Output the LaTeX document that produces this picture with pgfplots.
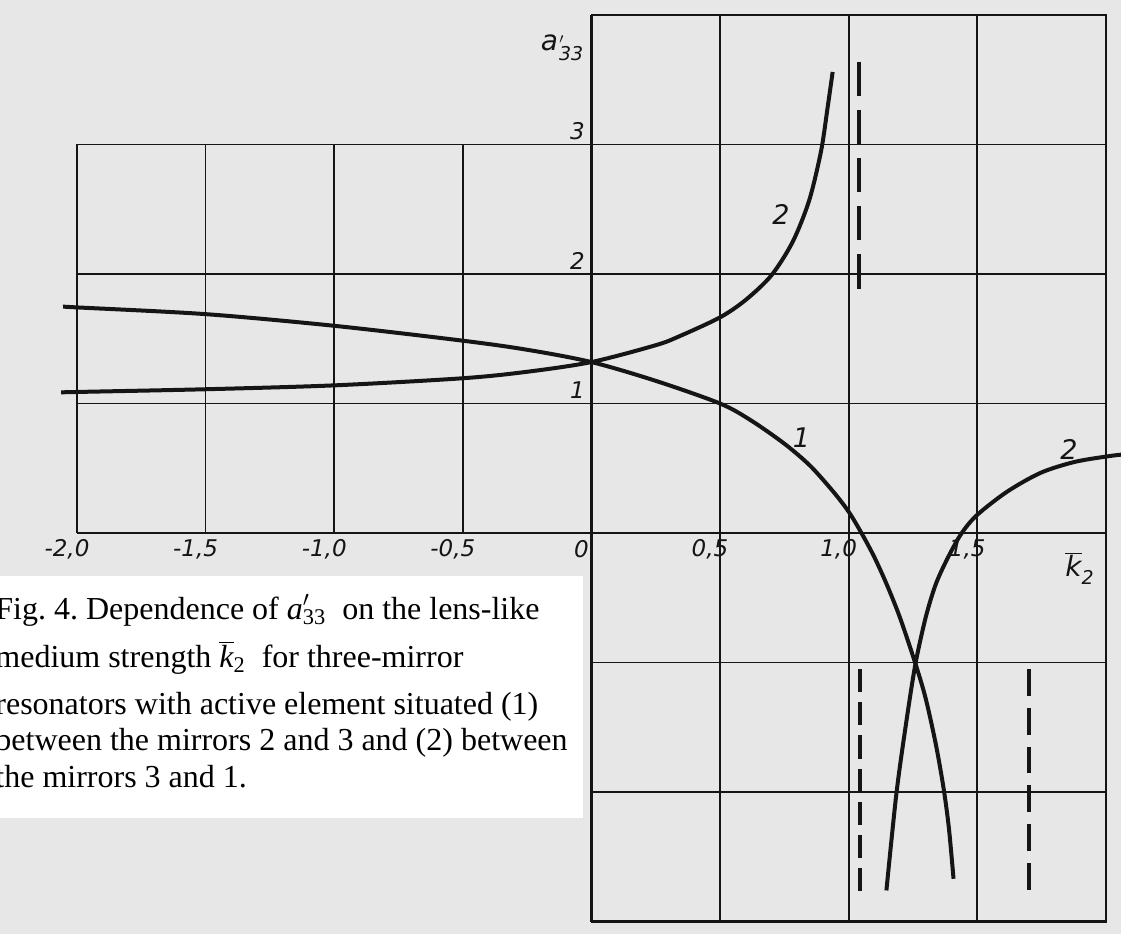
\documentclass[border=0pt]{standalone}
\usepackage{pgfplots}
\pgfplotsset{compat=1.18}
\usepackage{fontspec}
\setmainfont{Liberation Serif}
\newfontfamily\hand{DejaVu Sans}
\definecolor{paper}{HTML}{E7E7E7}
\definecolor{ink}{HTML}{151515}
\newcommand{\ticklab}{\hand\itshape\fontsize{11.5}{11.5}\selectfont}
\newcommand{\curvelab}{\hand\itshape\fontsize{13.5}{13.5}\selectfont}

\pgfplotstableread{
x y
-2.05 1.748
-2.00 1.742
-1.50 1.690
-1.00 1.600
-0.50 1.485
-0.25 1.415
0.00 1.320
0.25 1.175
0.50 1.000
0.62 0.870
0.75 0.690
0.85 0.520
0.94 0.320
1.00 0.165
1.05 0.000
1.10 -0.186
1.15 -0.405
1.20 -0.655
1.26 -1.010
1.30 -1.280
1.34 -1.640
1.37 -1.980
1.39 -2.280
1.408 -2.670
}\curveone

\pgfplotstableread{
x y
-2.06 1.086
-2.00 1.089
-1.50 1.110
-1.00 1.140
-0.50 1.195
-0.25 1.245
0.00 1.320
0.25 1.450
0.343 1.520
0.50 1.665
0.60 1.800
0.70 1.990
0.783 2.250
0.847 2.570
0.893 2.950
0.918 3.280
0.938 3.560
}\curvetwoa

\pgfplotstableread{
x y
1.147 -2.760
1.186 -2.010
1.225 -1.450
1.260 -1.010
1.300 -0.650
1.340 -0.390
1.390 -0.175
1.440 0.000
1.500 0.140
1.617 0.320
1.747 0.465
1.877 0.548
2.000 0.590
2.060 0.605
}\curvetwob

\begin{document}
\frenchspacing
\begin{tikzpicture}
\fill[paper] (0,0) rectangle (560.5pt,467pt);
\begin{axis}[
  at={(38.5pt,6.25pt)}, anchor=south west,
  x=128.6pt, y=64.75pt,
  xmin=-2, xmax=2, ymin=-3, ymax=4,
  axis lines=middle,
  axis line style={draw=none},
  hide obscured x ticks=false, hide obscured y ticks=false,
  major tick length=0pt,
  tick style={draw=none},
  xtick={-2,-1.5,-1,-0.5,0,0.5,1,1.5},
  xticklabels={{-2,0},{-1,5},{-1,0},{-0,5},{0},{0,5},{1,0},{1,5}},
  ytick={1,2,3}, yticklabels={1,2,3},
  xticklabel style={font=\ticklab, anchor=center, yshift=-8pt, xshift=-5pt, text=ink},
  yticklabel style={font=\ticklab, anchor=center, xshift=-7pt, yshift=6.5pt, text=ink},
  xlabel={$\overline{\mbox{\hand\itshape\fontsize{14}{14}\selectfont k}}_{\mbox{\hand\itshape\fontsize{9.5}{9.5}\selectfont 2}}$},
  ylabel={{\hand\itshape\fontsize{14}{14}\selectfont a}\kern0.5pt$'_{\mbox{\hand\itshape\fontsize{9.5}{9.5}\selectfont 33}}$},
  every axis x label/.style={at={(axis description cs:0.975,0.39)}, anchor=center, text=ink},
  every axis y label/.style={at={(axis description cs:0.472,0.9636)}, anchor=center, text=ink},
  clip=false,
  unbounded coords=jump,
]
% grid lines
\addplot[ink, line width=0.9pt, forget plot] coordinates {
 (-1.5,0) (-1.5,3) (nan,nan) (-1,0) (-1,3) (nan,nan) (-0.5,0) (-0.5,3) (nan,nan)
 (0.5,-3) (0.5,4) (nan,nan) (1,-3) (1,4) (nan,nan) (1.5,-3) (1.5,4) (nan,nan)
 (-2,1) (2,1) (nan,nan) (-2,2) (2,2) (nan,nan) (-2,3) (2,3) (nan,nan)
 (0,-1) (2,-1) (nan,nan) (0,-2) (2,-2)
};
% frame and axes
\addplot[ink, line width=1.3pt, forget plot] coordinates {
 (-2,3) (-2,0) (nan,nan) (-2,0) (2,0) (nan,nan) (0,-3) (0,4) (nan,nan)
 (0,4) (2,4) (2,-3) (0,-3)
};
% asymptotes
\addplot[ink, line width=2pt, dash pattern=on 17.1pt off 7pt, forget plot] coordinates {(1.040,3.64) (1.040,1.885)};
\addplot[ink, line width=2pt, dash pattern=on 11.6pt off 5pt, forget plot] coordinates {(1.045,-1.05) (1.045,-2.77)};
\addplot[ink, line width=2pt, dash pattern=on 13.4pt off 6pt, forget plot] coordinates {(1.703,-1.05) (1.703,-2.76)};
% curves
\addplot[ink, line width=2pt, smooth, tension=0.5] table {\curveone};
\addplot[ink, line width=2pt, smooth, tension=0.5] table {\curvetwoa};
\addplot[ink, line width=2pt, smooth, tension=0.5] table {\curvetwob};
% curve labels
\node[font=\curvelab, text=ink] at (axis cs:0.737,2.46) {2};
\node[font=\curvelab, text=ink] at (axis cs:0.817,0.74) {1};
\node[font=\curvelab, text=ink] at (axis cs:1.857,0.646) {2};
\end{axis}
% caption box
\fill[white] (0,58pt) rectangle (291.5pt,179pt);
\begin{scope}[every node/.style={anchor=base west, inner sep=0pt, font=\fontsize{16}{19}\selectfont}]
\node at (-2.5pt,157.5pt) {Fig. 4. Dependence of \textit{a}\rlap{$'$}\textsubscript{33}\ \ on the lens-like};
\node at (-2.5pt,133.5pt) {medium strength $\overline{\mbox{\itshape k}}$\textsubscript{2}\ \ for three-mirror};
\node at (-2.5pt,110pt) {resonators with active element situated (1)};
\node at (-2.5pt,92pt) {between the mirrors 2 and 3 and (2) between};
\node at (-2.5pt,73.5pt) {the mirrors 3 and 1.};
\end{scope}
\pgfresetboundingbox
\useasboundingbox (0,0) rectangle (560.5pt,467pt);
\end{tikzpicture}
\end{document}
